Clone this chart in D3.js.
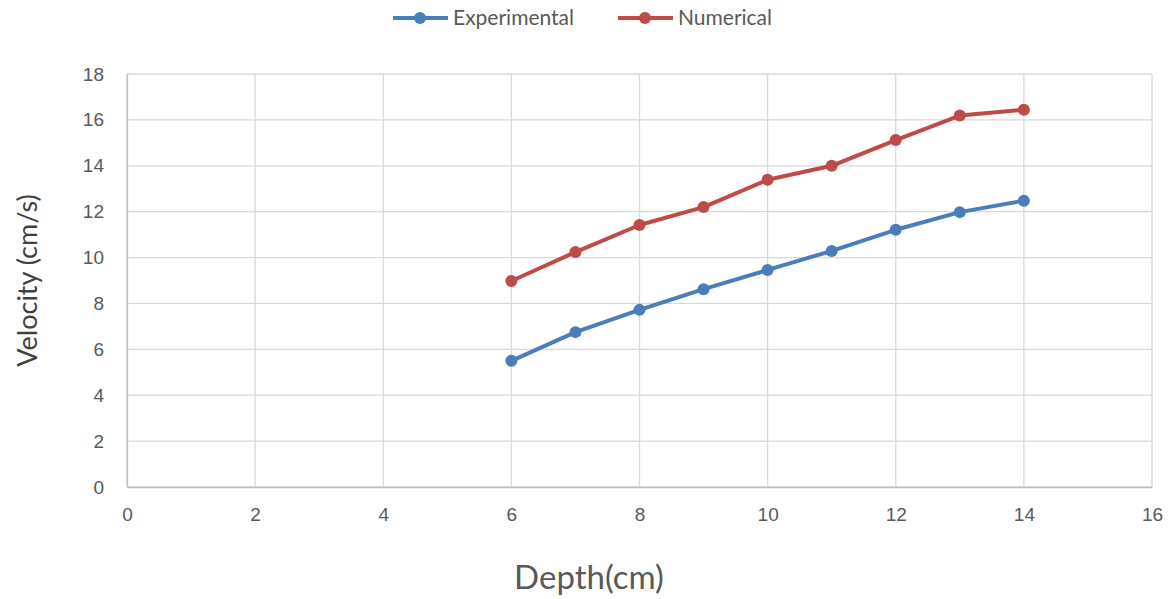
<!DOCTYPE html>
<html>
<head>
<meta charset="utf-8">
<script src="https://cdn.jsdelivr.net/npm/d3@7"></script>
<style>
  html, body { margin: 0; padding: 0; background: #fff; }
  svg { display: block; font-family: Lato, "Open Sans", sans-serif; }
</style>
</head>
<body>
<svg id="chart" width="1172" height="599"></svg>
<script>
// Depth (cm) and measured / simulated velocity (cm/s)
const depth = [6, 7, 8, 9, 10, 11, 12, 13, 14];
const experimental = [5.50, 6.75, 7.72, 8.62, 9.46, 10.29, 11.21, 11.98, 12.48];
const numerical = [8.98, 10.24, 11.42, 12.20, 13.39, 14.00, 15.12, 16.19, 16.44];
const xTicks = [0, 2, 4, 6, 8, 10, 12, 14, 16];
const yTicks = [0, 2, 4, 6, 8, 10, 12, 14, 16, 18];
const seriesNames = ["Experimental", "Numerical"];
const seriesColors = ["#4a7ebb", "#be4b48"];

const svg = d3.select("#chart");
const margin = { left: 127, right: 20, top: 74, bottom: 112 };
const W = 1172, H = 599;

const x = d3.scaleLinear().domain([0, 16]).range([margin.left, W - margin.right]);
const y = d3.scaleLinear().domain([0, 18]).range([H - margin.bottom, margin.top]);

// Gridlines
const grid = svg.append("g");
grid.selectAll("line.h").data(yTicks).join("line")
  .attr("x1", x(0)).attr("x2", x(16))
  .attr("y1", d => y(d)).attr("y2", d => y(d))
  .attr("stroke", "#d9d9d9").attr("stroke-width", 1.3);
grid.selectAll("line.v").data(xTicks).join("line")
  .attr("y1", y(0)).attr("y2", y(18))
  .attr("x1", d => x(d)).attr("x2", d => x(d))
  .attr("stroke", "#d9d9d9").attr("stroke-width", 1.3);

// Axes
const yAxis = svg.append("g")
  .attr("transform", `translate(${x(0)},0)`)
  .call(d3.axisLeft(y).tickValues(yTicks).tickSize(0).tickPadding(23));
yAxis.select(".domain").attr("stroke", "#bfbfbf").attr("stroke-width", 1.3);
yAxis.selectAll("text").attr("fill", "#595959").attr("font-size", 19);

const xAxis = svg.append("g")
  .attr("transform", `translate(0,${y(0)})`)
  .call(d3.axisBottom(x).tickValues(xTicks).tickSize(0).tickPadding(21));
xAxis.select(".domain").attr("stroke", "#bfbfbf").attr("stroke-width", 1.3);
xAxis.selectAll("text").attr("fill", "#595959").attr("font-size", 19);

// Axis titles
svg.append("text")
  .attr("x", 589).attr("y", 589)
  .attr("text-anchor", "middle")
  .attr("font-size", 33).attr("fill", "#595959")
  .text("Depth(cm)");

svg.append("text")
  .attr("transform", `translate(37,${(y(0) + y(18)) / 2}) rotate(-90)`)
  .attr("text-anchor", "middle")
  .attr("font-size", 27).attr("fill", "#404040")
  .text("Velocity (cm/s)");

// Series
const series = [experimental, numerical];
const line = d3.line().x((d, i) => x(depth[i])).y(d => y(d));

series.forEach((vals, s) => {
  svg.append("path")
    .datum(vals)
    .attr("d", line)
    .attr("fill", "none")
    .attr("stroke", seriesColors[s])
    .attr("stroke-width", 4)
    .attr("stroke-linejoin", "round");
  svg.append("g").selectAll("circle").data(vals).join("circle")
    .attr("cx", (d, i) => x(depth[i]))
    .attr("cy", d => y(d))
    .attr("r", 6)
    .attr("fill", seriesColors[s]);
});

// Legend
const legendItems = [
  { x0: 393, name: seriesNames[0], color: seriesColors[0] },
  { x0: 618, name: seriesNames[1], color: seriesColors[1] }
];
const legend = svg.append("g");
legendItems.forEach(it => {
  legend.append("line")
    .attr("x1", it.x0).attr("x2", it.x0 + 55)
    .attr("y1", 18).attr("y2", 18)
    .attr("stroke", it.color).attr("stroke-width", 4);
  legend.append("circle")
    .attr("cx", it.x0 + 27).attr("cy", 18).attr("r", 6)
    .attr("fill", it.color);
  legend.append("text")
    .attr("x", it.x0 + 60).attr("y", 25)
    .attr("font-size", 21).attr("fill", "#595959")
    .text(it.name);
});
</script>
</body>
</html>
